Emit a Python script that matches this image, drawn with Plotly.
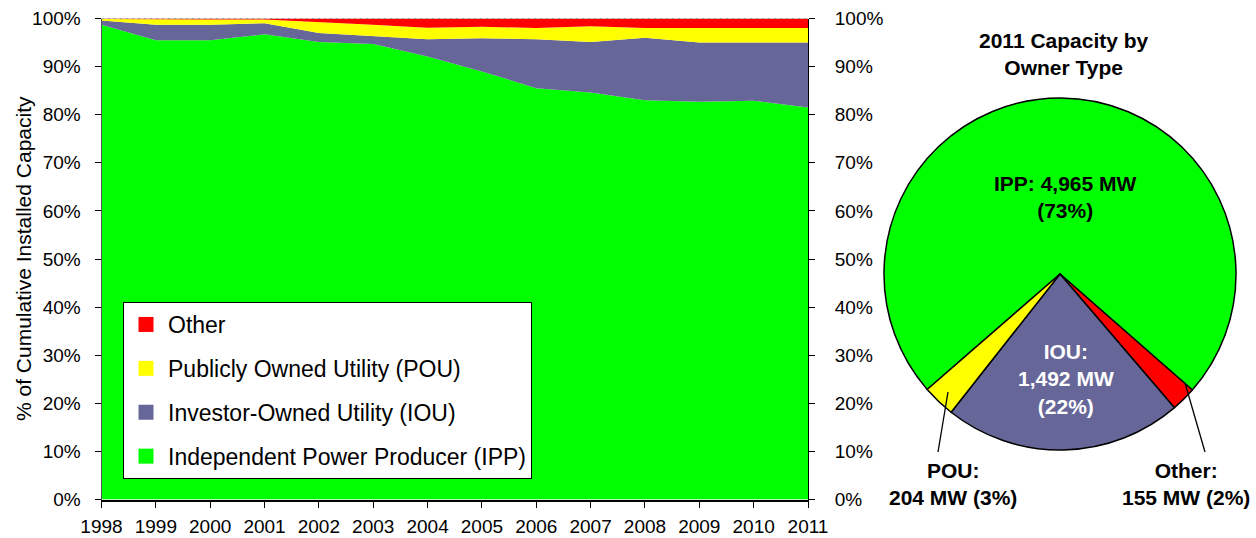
import plotly.graph_objects as go

# ---------------- data ----------------
years = list(range(1998, 2012))
ipp = [98.7, 95.5, 95.5, 96.7, 95.1, 94.7, 92.1, 89.0, 85.5, 84.6, 83.0, 82.7, 82.9, 81.5]
iou = [0.9, 3.2, 3.2, 2.3, 1.9, 1.7, 3.6, 6.9, 10.2, 10.5, 13.0, 12.3, 12.1, 13.5]
pou = [0.3, 1.1, 1.1, 0.8, 2.3, 2.3, 2.4, 2.4, 2.3, 3.3, 2.0, 3.0, 3.0, 3.0]
other = [0.1, 0.2, 0.2, 0.2, 0.7, 1.3, 1.9, 1.7, 2.0, 1.6, 2.0, 2.0, 2.0, 2.0]

series_names = ["Independent Power Producer (IPP)", "Investor-Owned Utility (IOU)",
                "Publicly Owned Utility (POU)", "Other"]
series_colors = ["#00FF00", "#666699", "#FFFF00", "#FF0000"]

pie_labels = ["IPP", "Other", "IOU", "POU"]
pie_mw = [4965, 155, 1492, 204]
pie_pct = [73, 2, 22, 3]
pie_colors = ["#00FF00", "#FF0000", "#666699", "#FFFF00"]

y_ticks = list(range(0, 101, 10))
y_ticktext = [f"{v}%" for v in y_ticks]

FONT = "Liberation Sans, Arial, sans-serif"
W, H = 1256, 538

def px(x):
    return x / W

def py(y):
    return 1 - y / H

fig = go.Figure()

# stacked areas
for name, vals, col in zip(series_names, [ipp, iou, pou, other], series_colors):
    fig.add_trace(go.Scatter(
        x=years, y=vals, name=name, stackgroup="one", mode="lines",
        line=dict(width=0, color=col), fillcolor=col, showlegend=False,
        hoverinfo="x+y+name"))

# invisible trace to activate the right-hand axis
fig.add_trace(go.Scatter(x=years, y=ipp, yaxis="y2", mode="lines",
                         line=dict(width=0), opacity=0, showlegend=False,
                         hoverinfo="skip"))

# legend entries (square swatches), top to bottom
for name, col in zip(series_names[::-1], series_colors[::-1]):
    fig.add_trace(go.Scatter(x=[None], y=[None], mode="markers", name=name,
                             legendgroup=name,
                             marker=dict(symbol="square", size=15, color=col)))

# pie
fig.add_trace(go.Pie(
    labels=pie_labels, values=pie_mw, sort=False, direction="clockwise",
    rotation=229, marker=dict(colors=pie_colors, line=dict(color="black", width=1.5)),
    textinfo="none", showlegend=False,
    domain=dict(x=[px(884), px(1236)], y=[1 - 450 / H, 1 - 98 / H])))


def ann(text, x, y, color="black", size=21, **kw):
    d = dict(text=text, x=px(x), y=py(y), xref="paper", yref="paper", showarrow=False,
             xanchor="center", yanchor="middle",
             font=dict(size=size, color=color, family=FONT))
    d.update(kw)
    return d


lab = {l: (m, p) for l, m, p in zip(pie_labels, pie_mw, pie_pct)}
annotations = [
    ann("<b>2011 Capacity by<br>Owner Type</b>", 1064, 54),
    ann(f"<b>IPP: {lab['IPP'][0]:,} MW<br>({lab['IPP'][1]}%)</b>", 1065, 197),
    ann(f"<b>IOU:<br>{lab['IOU'][0]:,} MW<br>({lab['IOU'][1]}%)</b>", 1066, 379, color="white"),
    ann(f"<b>POU:<br>{lab['POU'][0]:,} MW ({lab['POU'][1]}%)</b>", 953, 484),
    ann(f"<b>Other:<br>{lab['Other'][0]:,} MW ({lab['Other'][1]}%)</b>", 1186, 484),
    ann("% of Cumulative Installed Capacity", 23, 259, textangle=-90),
]

shapes = [
    dict(type="line", xref="paper", yref="paper", x0=px(938), y0=py(452), x1=px(948), y1=py(392),
         line=dict(color="black", width=1.3)),
    dict(type="line", xref="paper", yref="paper", x0=px(1205), y0=py(452), x1=px(1185), y1=py(383),
         line=dict(color="black", width=1.3)),
    dict(type="line", xref="x domain", yref="y domain", x0=0, x1=1, y0=1, y1=1,
         line=dict(color="#a0a0a0", width=1, dash="dot"), layer="above"),
]

fig.update_layout(
    width=W, height=H, margin=dict(l=0, r=0, t=0, b=0, autoexpand=False),
    paper_bgcolor="white", plot_bgcolor="white",
    font=dict(family=FONT, color="black", size=19),
    xaxis=dict(domain=[px(101.5), px(808)], range=[1998, 2011], tickmode="array",
               tickvals=years, ticktext=[str(y) for y in years], automargin=False,
               showgrid=False, zeroline=False, showline=True, linecolor="black", linewidth=2,
               ticks="outside", ticklen=6, tickcolor="black", tickfont=dict(size=19),
               ticklabelstandoff=3),
    yaxis=dict(domain=[py(499.5), py(18.5)], range=[0, 100], tickmode="array",
               tickvals=y_ticks, ticktext=y_ticktext, showgrid=False, zeroline=False,
               automargin=False,
               showline=True, linecolor="#555", linewidth=1, ticks="outside", ticklen=6,
               tickcolor="black", tickfont=dict(size=19), ticklabelstandoff=10),
    yaxis2=dict(overlaying="y", side="right", range=[0, 100], tickmode="array",
                tickvals=y_ticks, ticktext=y_ticktext, showgrid=False, zeroline=False,
                automargin=False,
                showline=True, linecolor="black", linewidth=1, ticks="outside", ticklen=6,
                tickcolor="black", tickfont=dict(size=19), ticklabelstandoff=16),
    legend=dict(x=px(123), y=py(302), xanchor="left", yanchor="top",
                bgcolor="white", bordercolor="black", borderwidth=1,
                font=dict(size=23, family=FONT, color="black"),
                traceorder="grouped", tracegroupgap=11, itemsizing="trace", itemwidth=34),
    annotations=annotations, shapes=shapes, showlegend=True,
)

fig.write_html("out.html", config={"displayModeBar": False},
               post_script="document.body.style.margin='0';document.body.style.overflow='hidden';")
